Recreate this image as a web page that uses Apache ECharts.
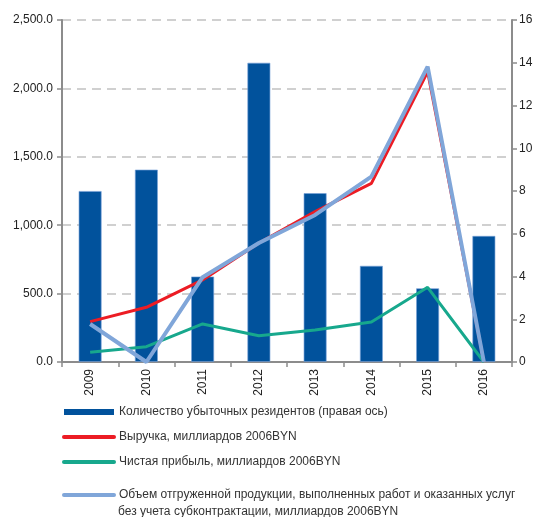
<!DOCTYPE html>
<html>
<head>
<meta charset="utf-8">
<script src="https://cdn.jsdelivr.net/npm/echarts@6/dist/echarts.min.js"></script>
<style>
html,body{margin:0;padding:0;background:#fff;}
#chart{width:543px;height:517px;}
</style>
</head>
<body>
<div id="chart"></div>
<script>
const years = ['2009','2010','2011','2012','2013','2014','2015','2016'];
const lossResidents = [8, 9, 4, 14, 7.9, 4.5, 3.45, 5.9];
const revenue = [295, 400, 600, 870, 1099, 1306, 2122, 0];
const netProfit = [71, 112, 278, 192, 234, 292, 546, 0];
const shipped = [278, 0, 620, 870, 1075, 1355, 2159, 0];
const leftTicks = [0, 2500, 500];
const rightTicks = [0, 16, 2];
const names = [
  'Количество убыточных резидентов (правая ось)',
  'Выручка, миллиардов 2006BYN',
  'Чистая прибыль, миллиардов 2006BYN',
  'Объем отгруженной продукции, выполненных работ и оказанных услуг\nбез учета субконтрактации, миллиардов 2006BYN'
];
const colors = ['#01529c', '#ec1c24', '#17a88d', '#80a6d9'];

const font = "'Liberation Sans', Arial, sans-serif";
const axisGray = '#8c8c8c';
const noDot = {color: 'rgba(0,0,0,0)', borderWidth: 0};
const legendText = {fontFamily: font, fontSize: 12, color: '#333', lineHeight: 16};
const legendBase = {
  orient: 'vertical', left: 62, height: 200, padding: 0,
  itemWidth: 50, itemHeight: 6, itemGap: 9, textStyle: legendText
};
const chart = echarts.init(document.getElementById('chart'), null, {renderer: 'canvas'});
chart.setOption({
  animation: false,
  textStyle: {fontFamily: font},
  grid: {left: 62, right: 31, top: 20, bottom: 155, containLabel: false},
  legend: [
    Object.assign({}, legendBase, {
      top: 404,
      data: [
        {name: names[0], icon: 'rect', itemStyle: {borderWidth: 0}},
        {name: names[1], itemStyle: noDot, lineStyle: {width: 4, cap: 'round'}},
        {name: names[2], itemStyle: noDot, lineStyle: {width: 4, cap: 'round'}}
      ]
    }),
    Object.assign({}, legendBase, {
      top: 487,
      formatter: n => n.split('\n')[0],
      data: [
        {name: names[3], itemStyle: noDot, lineStyle: {width: 4, cap: 'round'}}
      ]
    })
  ],
  graphic: [{
    type: 'text',
    left: 118,
    top: 506,
    style: {
      text: names[3].split('\n')[1],
      fontFamily: font, fontSize: 12, fill: '#333'
    }
  }],
  xAxis: {
    type: 'category',
    data: years,
    boundaryGap: true,
    axisLine: {lineStyle: {color: axisGray, width: 2}},
    axisTick: {show: true, length: 5, inside: false, lineStyle: {color: axisGray, width: 1.5}},
    axisLabel: {rotate: 90, margin: 7, fontSize: 12, color: '#222', fontFamily: font},
    splitLine: {show: false}
  },
  yAxis: [
    {
      type: 'value',
      min: leftTicks[0], max: leftTicks[1], interval: leftTicks[2],
      axisLine: {show: true, lineStyle: {color: axisGray, width: 2}},
      axisTick: {show: true, length: 5, lineStyle: {color: axisGray, width: 1.5}},
      axisLabel: {
        margin: 9, fontSize: 12, color: '#222', fontFamily: font,
        formatter: v => v.toLocaleString('en-US', {minimumFractionDigits: 1, maximumFractionDigits: 1})
      },
      splitLine: {show: true, lineStyle: {color: '#d0d0d0', width: 2, type: [9, 6]}}
    },
    {
      type: 'value',
      position: 'right',
      min: rightTicks[0], max: rightTicks[1], interval: rightTicks[2],
      axisLine: {show: true, lineStyle: {color: axisGray, width: 2}},
      axisTick: {show: true, length: 5, lineStyle: {color: axisGray, width: 1.5}},
      axisLabel: {margin: 7, fontSize: 12, color: '#222', fontFamily: font},
      splitLine: {show: false}
    }
  ],
  series: [
    {
      name: names[0],
      type: 'bar',
      yAxisIndex: 1,
      data: lossResidents,
      barWidth: 23,
      itemStyle: {color: colors[0], borderColor: 'rgba(120,160,215,0.8)', borderWidth: 0.8}
    },
    {
      name: names[1],
      type: 'line',
      yAxisIndex: 0,
      data: revenue,
      symbol: 'none',
      lineStyle: {color: colors[1], width: 3},
      itemStyle: {color: colors[1]}
    },
    {
      name: names[2],
      type: 'line',
      yAxisIndex: 0,
      data: netProfit,
      symbol: 'none',
      lineStyle: {color: colors[2], width: 3},
      itemStyle: {color: colors[2]}
    },
    {
      name: names[3],
      type: 'line',
      yAxisIndex: 0,
      data: shipped,
      symbol: 'none',
      lineStyle: {color: colors[3], width: 4},
      itemStyle: {color: colors[3]}
    }
  ]
});
</script>
</body>
</html>
